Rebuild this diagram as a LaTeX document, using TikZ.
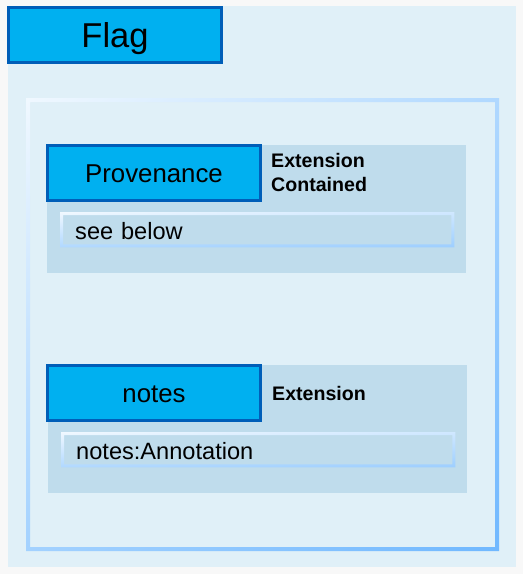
\documentclass[tikz,border=0pt]{standalone}
\usepackage{fontspec}
\setmainfont{Liberation Sans}
\usepackage{tikz}
\usetikzlibrary{positioning,shadings}

\definecolor{pagegray}{HTML}{F8F8F8}
\definecolor{panelblue}{HTML}{E0F0F8}
\definecolor{groupblue}{HTML}{BFDCEC}
\definecolor{headfill}{HTML}{00B0F0}
\definecolor{headline}{HTML}{005EB8}
\definecolor{edgelight}{HTML}{F0F8FF}
\definecolor{edgemid}{HTML}{B0D8FF}
\definecolor{edgedark}{HTML}{70B8FF}

\begin{document}
\begin{tikzpicture}[x=1pt, y=-1pt,
    headbox/.style={draw=headline, line width=3pt, fill=headfill, anchor=north west,
        minimum width=213pt, minimum height=55pt, inner sep=0pt,
        text height=18.5pt, text depth=0pt, font=\fontsize{25.8}{30}\selectfont},
    valbox/.style={fill=groupblue, anchor=north west, minimum height=29pt,
        text width=364pt, inner xsep=12pt, inner ysep=0pt, align=left,
        text height=19pt, text depth=0pt,
        font=\fontsize{23.6}{28}\selectfont},
    kindlabel/.style={anchor=north west, align=left, inner sep=0pt,
        font=\fontsize{19.6}{24}\selectfont\bfseries}]
                % 背景
                \useasboundingbox[fill=pagegray] (0,0) rectangle (523,574);
                \fill[panelblue] (8,6) rectangle (516,567);

                % 内框 (渐变边)
                \shade[even odd rule, shading=bilinear interpolation,
                       upper left=edgelight, upper right=edgemid,
                       lower left=edgemid!80!edgedark, lower right=edgedark]
                    (26,98) rectangle (499,551) (30,102) rectangle (495,547);

                % 标题
                \node[headbox, text height=24.7pt, font=\fontsize{34.5}{40}\selectfont] (flag) at (7,6) {Flag};

                % Provenance 组
                \node[fill=groupblue, anchor=north west, minimum width=419pt,
                      minimum height=128pt, inner sep=0pt] (provgrp) at (47,145) {};
                \node[headbox] (prov) at (46,144) {Provenance};
                \node[kindlabel] (provkind) at (271,153) {Extension\\Contained};
                \node[valbox] (provval) at (63,215) {see below};
                \shade[even odd rule, shading=bilinear interpolation,
                       upper left=edgelight, upper right=edgemid!60!white,
                       lower left=edgemid, lower right=edgemid!70!edgedark]
                    ([shift={(-3,-3)}]provval.north west) rectangle ([shift={(3,3)}]provval.south east)
                    (provval.north west) rectangle (provval.south east);

                % notes 组
                \node[fill=groupblue, anchor=north west, minimum width=419pt,
                      minimum height=128pt, inner sep=0pt] (notegrp) at (48,365) {};
                \node[headbox] (notes) at (46,364) {notes};
                \node[kindlabel] (noteskind) at (272,386) {Extension};
                \node[valbox] (notesval) at (64,435) {notes:Annotation};
                \shade[even odd rule, shading=bilinear interpolation,
                       upper left=edgelight, upper right=edgemid!60!white,
                       lower left=edgemid, lower right=edgemid!70!edgedark]
                    ([shift={(-3,-3)}]notesval.north west) rectangle ([shift={(3,3)}]notesval.south east)
                    (notesval.north west) rectangle (notesval.south east);
            \end{tikzpicture}
\end{document}
